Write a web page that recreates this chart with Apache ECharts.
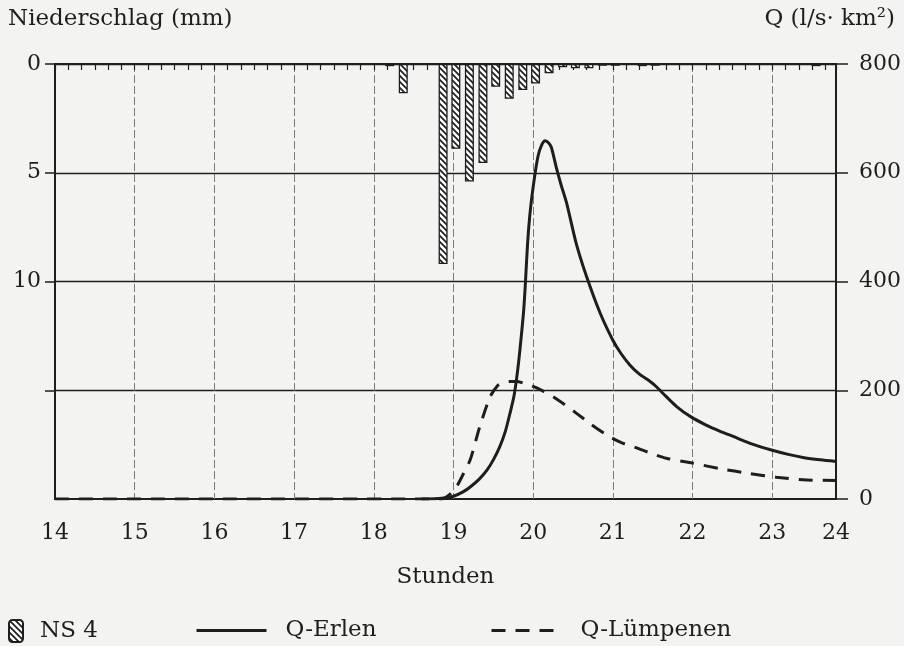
<!DOCTYPE html>
<html>
<head>
<meta charset="utf-8">
<script src="https://cdn.jsdelivr.net/npm/echarts@6/dist/echarts.min.js"></script>
<style>html,body{margin:0;padding:0;background:#f3f3f1;}#c{width:904px;height:646px;}</style>
</head>
<body>
<div id="c"></div>
<script>
// ---- data ----
// x: hours (Stunden); the drawn axis ends at 23.8 on the paper grid, labelled 24
const hourTicks  = [14, 15, 16, 17, 18, 19, 20, 21, 22, 23, 23.8];
const hourLabels = ['14','15','16','17','18','19','20','21','22','23','24'];
const rainTicks  = [0, 5, 10];          // labelled left-axis ticks (mm, inverted)
const qTicks     = [0, 200, 400, 600, 800];

// NS 4 precipitation, 10-minute bars: [hour (bar centre), mm]
const ns4 = [
  [18.20, 0.1], [18.37, 1.35], [18.87, 9.2], [19.03, 3.9], [19.20, 5.4],
  [19.37, 4.55], [19.53, 1.05], [19.70, 1.6], [19.87, 1.2], [20.03, 0.9],
  [20.20, 0.43], [20.37, 0.15], [20.53, 0.2], [20.70, 0.2], [20.87, 0.08],
  [21.03, 0.08], [21.37, 0.1], [21.53, 0.08], [23.55, 0.1]
];

// Q-Erlen: [hour, l/s·km²]
const qErlen = [
  [18.6, 0], [18.8, 1], [18.92, 3], [19.0, 5], [19.12, 13], [19.21, 22], [19.32, 36],
  [19.42, 53], [19.5, 72], [19.58, 96], [19.65, 124], [19.71, 158], [19.76, 190], [19.79, 219],
  [19.82, 255], [19.85, 298], [19.88, 345], [19.9, 390], [19.93, 470], [19.96, 525],
  [20.0, 574], [20.06, 630], [20.11, 652], [20.15, 659], [20.2, 654], [20.23, 646],
  [20.29, 610], [20.35, 578], [20.42, 544], [20.54, 470], [20.67, 409], [20.84, 342],
  [21.0, 292], [21.1, 268], [21.21, 247], [21.33, 230], [21.46, 217], [21.55, 206],
  [21.63, 194], [21.8, 170], [21.98, 151], [22.17, 136], [22.34, 125], [22.51, 115],
  [22.75, 101], [22.99, 90], [23.2, 82], [23.4, 76], [23.6, 72], [23.8, 69]
];

// Q-Lümpenen: [hour, l/s·km²]
const qLuempenen = [
  [14, 0], [18.85, 0], [18.95, 8], [19.04, 23], [19.12, 45], [19.21, 72], [19.33, 133],
  [19.46, 188], [19.55, 208], [19.62, 214], [19.7, 216], [19.79, 216], [19.9, 212],
  [20.0, 207], [20.12, 199], [20.25, 188], [20.4, 173], [20.54, 158], [20.72, 138],
  [20.92, 118], [21.1, 104], [21.3, 94], [21.48, 84], [21.67, 75], [22.0, 66],
  [22.34, 56], [22.71, 47], [23.05, 40], [23.43, 35], [23.8, 34]
];

// ---- chart ----
const FONT = 'DejaVu Serif';
const INK = '#1e1e1e';

const pc = document.createElement('canvas');
pc.width = 6; pc.height = 6;
const g = pc.getContext('2d');
g.fillStyle = '#ffffff'; g.fillRect(0, 0, 6, 6);
g.strokeStyle = INK; g.lineWidth = 1.7;
g.beginPath();
g.moveTo(-1, -1); g.lineTo(7, 7);
g.moveTo(-1, 5); g.lineTo(1, 7);
g.moveTo(5, -1); g.lineTo(7, 1);
g.stroke();
const hatch = { image: pc, repeat: 'repeat' };

const chart = echarts.init(document.getElementById('c'), null, { renderer: 'canvas' });

const txt = { fontFamily: FONT, color: INK, fontSize: 22 };

chart.setOption({
  backgroundColor: '#f3f3f1',
  animation: false,
  title: [
    { text: 'Niederschlag (mm)', left: 8, top: 8, padding: 0,
      textStyle: { fontFamily: FONT, fontSize: 23, fontWeight: 'normal', color: INK } },
    { text: 'Q (l/s· km²)', right: 9, top: 8, padding: 0,
      textStyle: { fontFamily: FONT, fontSize: 23, fontWeight: 'normal', color: INK } }
  ],
  legend: [
    { data: ['NS 4'], left: 8, top: 619, padding: 0, itemWidth: 14, itemHeight: 22,
      textStyle: Object.assign({}, txt, { fontSize: 23, padding: [0, 0, 0, 12] }) },
    { data: [{ name: 'Q-Erlen', itemStyle: { opacity: 0 } }], left: 195, top: 619, padding: 0,
      itemWidth: 70, itemHeight: 22, lineStyle: { width: 3 },
      textStyle: Object.assign({}, txt, { fontSize: 23, padding: [0, 0, 0, 14] }) },
    { data: [{ name: 'Q-Lümpenen', itemStyle: { opacity: 0 } }], left: 490, top: 619, padding: 0,
      itemWidth: 70, itemHeight: 22, lineStyle: { width: 3 },
      textStyle: Object.assign({}, txt, { fontSize: 23, padding: [0, 0, 0, 14] }) }
  ],
  grid: { left: 55, right: 68, top: 64, bottom: 147, containLabel: false,
          show: true, borderColor: INK, borderWidth: 2, backgroundColor: 'transparent' },
  xAxis: {
    type: 'value', min: 14, max: 23.8, interval: 1,
    name: 'Stunden', nameLocation: 'middle', nameGap: 67,
    nameTextStyle: { fontFamily: FONT, fontSize: 23, color: INK },
    axisLine: { show: true, lineStyle: { color: INK, width: 2 } },
    axisTick: { show: true, length: 6, lineStyle: { color: INK, width: 1.2 } },
    minorTick: { show: true, splitNumber: 6, length: 6, lineStyle: { color: INK, width: 1.2 } },
    axisLabel: {
      customValues: hourTicks, margin: 23, ...txt,
      formatter: function (v) {
        let best = 0;
        for (let i = 0; i < hourTicks.length; i++) {
          if (Math.abs(hourTicks[i] - v) < Math.abs(hourTicks[best] - v)) best = i;
        }
        return hourLabels[best];
      }
    },
    splitLine: { show: true, lineStyle: { color: '#7a7a7a', width: 1, type: [8, 3] } }
  },
  yAxis: [
    {
      type: 'value', inverse: true, min: 0, max: 20, interval: 5, position: 'left',
      axisLine: { show: true, lineStyle: { color: INK, width: 2 } },
      axisTick: { show: true, length: 10, customValues: [0, 5, 10, 15], lineStyle: { color: INK, width: 1.5 } },
      axisLabel: { customValues: rainTicks, margin: 14, ...txt },
      splitLine: { show: true, lineStyle: { color: INK, width: 1.3 } }
    },
    {
      type: 'value', min: 0, max: 800, interval: 200, position: 'right',
      axisLine: { show: true, lineStyle: { color: INK, width: 2 } },
      axisTick: { show: true, length: 12, lineStyle: { color: INK, width: 1.5 } },
      axisLabel: { customValues: qTicks, margin: 23, ...txt },
      splitLine: { show: false }
    }
  ],
  series: [
    {
      name: 'NS 4', type: 'bar', xAxisIndex: 0, yAxisIndex: 0, data: ns4,
      barWidth: 9, z: 3,
      itemStyle: { color: hatch, borderColor: INK, borderWidth: 1.3 }
    },
    {
      name: 'Q-Erlen', type: 'line', xAxisIndex: 0, yAxisIndex: 1, data: qErlen,
      smooth: 0.25, symbol: 'none', z: 4,
      lineStyle: { color: INK, width: 3, type: 'solid' },
      itemStyle: { color: INK }
    },
    {
      name: 'Q-Lümpenen', type: 'line', xAxisIndex: 0, yAxisIndex: 1, data: qLuempenen,
      smooth: 0.25, symbol: 'none', z: 4,
      lineStyle: { color: INK, width: 3, type: [14, 10] },
      itemStyle: { color: INK }
    }
  ]
});
</script>
</body>
</html>
